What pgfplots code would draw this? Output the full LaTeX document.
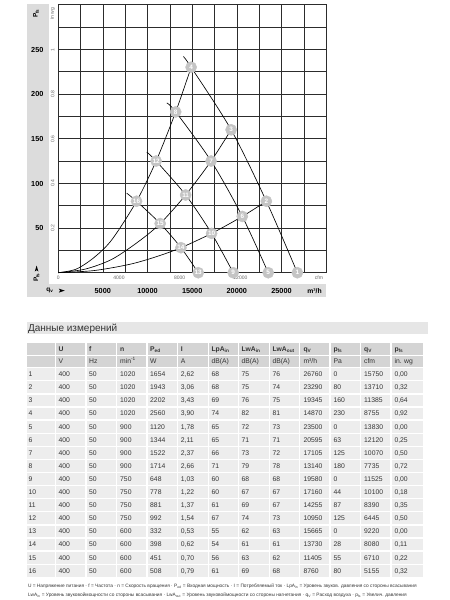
\documentclass[border=0pt]{standalone}
\usepackage{pgfplots}
\pgfplotsset{compat=1.18}
\usepackage{fontspec}
\setmainfont{Liberation Sans}
\definecolor{strip}{HTML}{DCDCDC}
\definecolor{gridc}{HTML}{2C2C2C}
\definecolor{circ}{HTML}{C4C4C4}
\definecolor{hdr}{HTML}{D4D4D4}
\definecolor{cellc}{HTML}{EDEDED}
\definecolor{titlec}{HTML}{E6E6E6}
\definecolor{txt}{HTML}{333333}
\definecolor{lbl}{HTML}{666666}

\newcommand\cellrow[2]{%
  \foreach \t [count=\c from 0] in {#2}{%
    \pgfmathsetmacro\xx{{28.3,58.3,89,120,150,180.7,211.3,241.3,272.3,303.3,333.3,364,394.3}[\c]}%
    \node[anchor=base west, inner sep=0pt, text=txt, font=\fontsize{6.8}{8}\selectfont] at (\xx, #1+2.4) {\t};
  }}

\begin{document}
\begin{tikzpicture}
\useasboundingbox (0,0) rectangle (450pt,-600pt);
\begin{scope}[x=1pt,y=-1pt]
% chart background strips
\fill[strip] (26.7,3.5) rectangle (49.3,297);
\fill[strip] (26.7,284) rectangle (326.3,297);
% Pa labels
\foreach \v/\y in {250/49.7, 200/94.3, 150/138.9, 100/183.5, 50/228.1}{
  \node[anchor=east, inner sep=0pt, font=\fontsize{7.3}{8}\selectfont\bfseries] at (43.6,\y) {\v};
}
% in wg labels
\foreach \v/\y in {1/49.7, 0.8/94.3, 0.6/138.9, 0.4/183.5, 0.2/228.1}{
  \node[rotate=90, inner sep=0pt, text=lbl, font=\fontsize{5}{6}\selectfont] at (52.6,\y) {\v};
}
\node[rotate=90, anchor=east, inner sep=0pt, text=lbl, font=\fontsize{5}{6}\selectfont] at (52.6,7.5) {in wg};
\node[rotate=90, inner sep=0pt, font=\fontsize{6.5}{7}\selectfont\bfseries] at (36,13.5) {P\textsubscript{fs}};
% bottom left
\fill (34.8,271.5) -- (36.6,265.5) -- (38.4,271.5) -- (36.6,270.2) -- cycle;
\node[rotate=90, inner sep=0pt, font=\fontsize{6.5}{7}\selectfont\bfseries] at (36.6,277.5) {P\textsubscript{fs}};
\node[inner sep=0pt, font=\fontsize{6.5}{7}\selectfont\bfseries] at (50,290.5) {q\textsubscript{v}};
\fill (58.8,288.6) -- (64.8,290.6) -- (58.8,292.6) -- (60.1,290.6) -- cycle;
% m3/h labels
\foreach \v/\x in {5000/102.8, 10000/147.5, 15000/192.2, 20000/236.8, 25000/281.5}{
  \node[inner sep=0pt, font=\fontsize{7.3}{8}\selectfont\bfseries] at (\x,290.7) {\v};
}
\node[inner sep=0pt, font=\fontsize{6.8}{8}\selectfont\bfseries] at (314.5,290.7) {m³/h};
% cfm labels
\foreach \v/\x in {0/58.3, 4000/119.0, 8000/179.7, 12000/240.4}{
  \node[inner sep=0pt, text=lbl, font=\fontsize{5}{6}\selectfont] at (\x,277.4) {\v};
}
\node[inner sep=0pt, text=lbl, font=\fontsize{5}{6}\selectfont] at (319,277.4) {cfm};

% ---------- table ----------
\fill[titlec] (26.7,321.7) rectangle (427.7,334.3);
\node[anchor=base west, inner sep=0pt, text=txt, font=\fontsize{10}{12}\selectfont] at (27.8,331.8) {Данные измерений};
\foreach \xl/\xr in {26.7/54.8, 56/85.4, 86.7/116, 117.3/146.4, 147.7/177, 178.3/207.7, 209/238, 239.3/268.7, 270/299, 300.3/329.4, 330.7/360, 361.3/390.4, 391.7/422.7}{
  \fill[hdr] (\xl,342.7) rectangle (\xr,354.5);
  \fill[hdr] (\xl,355.7) rectangle (\xr,367);
  \foreach \k in {0,...,15}{ \fill[cellc] (\xl,{368.3+13.1*\k}) rectangle (\xr,{380.1+13.1*\k}); }
}
\cellrow{348.6}{{},\textbf{U},\textbf{f},\textbf{n},\textbf{P\textsubscript{ed}},\textbf{I},\textbf{LpA\textsubscript{in}},\textbf{LwA\textsubscript{in}},\textbf{LwA\textsubscript{out}},\textbf{q\textsubscript{V}},\textbf{p\textsubscript{fs}},\textbf{q\textsubscript{V}},\textbf{p\textsubscript{fs}}}
\cellrow{361.3}{{},V,Hz,min\textsuperscript{-1},W,A,dB(A),dB(A),dB(A),m³/h,Pa,cfm,in. wg}
\cellrow{374.2}{1,400,50,1020,1654,{2,62},68,75,76,26760,0,15750,{0,00}}
\cellrow{387.3}{2,400,50,1020,1943,{3,06},68,75,74,23290,80,13710,{0,32}}
\cellrow{400.4}{3,400,50,1020,2202,{3,43},69,76,75,19345,160,11385,{0,64}}
\cellrow{413.5}{4,400,50,1020,2560,{3,90},74,82,81,14870,230,8755,{0,92}}
\cellrow{426.6}{5,400,50,900,1120,{1,78},65,72,73,23500,0,13830,{0,00}}
\cellrow{439.7}{6,400,50,900,1344,{2,11},65,71,71,20595,63,12120,{0,25}}
\cellrow{452.8}{7,400,50,900,1522,{2,37},66,73,72,17105,125,10070,{0,50}}
\cellrow{465.9}{8,400,50,900,1714,{2,66},71,79,78,13140,180,7735,{0,72}}
\cellrow{479.0}{9,400,50,750,648,{1,03},60,68,68,19580,0,11525,{0,00}}
\cellrow{492.1}{10,400,50,750,778,{1,22},60,67,67,17160,44,10100,{0,18}}
\cellrow{505.2}{11,400,50,750,881,{1,37},61,69,67,14255,87,8390,{0,35}}
\cellrow{518.3}{12,400,50,750,992,{1,54},67,74,73,10950,125,6445,{0,50}}
\cellrow{531.4}{13,400,50,600,332,{0,53},55,62,63,15665,0,9220,{0,00}}
\cellrow{544.5}{14,400,50,600,398,{0,62},54,61,61,13730,28,8080,{0,11}}
\cellrow{557.6}{15,400,50,600,451,{0,70},56,63,62,11405,55,6710,{0,22}}
\cellrow{570.7}{16,400,50,600,508,{0,79},61,69,68,8760,80,5155,{0,32}}
% footer
\node[anchor=base west, inner sep=0pt, text=txt, font=\fontsize{4.8}{6}\selectfont] at (27.8,587) {U = Напряжение питания · f = Частота · n = Скорость вращения · P\textsubscript{ed} = Входная мощность · I = Потребляемый ток · LpA\textsubscript{in} = Уровень звуков. давления со стороны всасывания};
\node[anchor=base west, inner sep=0pt, text=txt, font=\fontsize{4.8}{6}\selectfont] at (27.8,596.7) {LwA\textsubscript{in} = Уровень звуковоймощности со стороны всасывания · LwA\textsubscript{out} = Уровень звуковоймощности со стороны нагнетания · q\textsubscript{V} = Расход воздуха · p\textsubscript{fs} = Увелич. давления};
\end{scope}

\begin{axis}[at={(58.3pt,-272.7pt)}, anchor=south west, scale only axis,
  width=268pt, height=268pt,
  xmin=0, xmax=30000, ymin=0, ymax=300,
  scaled x ticks=false, scaled y ticks=false,
  xtick={0,2500,...,30000}, ytick={0,25,...,300},
  xticklabels={}, yticklabels={}, major tick length=0pt,
  grid=major, grid style={gridc, line width=0.7pt},
  axis line style={gridc, line width=0.7pt},
  clip=false]
% fan curves
\addplot[black, line width=0.65pt, smooth] coordinates {(14000,242) (14870,230) (19345,160) (23290,80) (26760,0)};
\addplot[black, line width=0.65pt, smooth] coordinates {(12150,190) (13140,180) (17105,125) (20595,63) (23500,0)};
\addplot[black, line width=0.65pt, smooth] coordinates {(9900,135) (10950,125) (14255,87) (17160,44) (19580,0)};
\addplot[black, line width=0.65pt, smooth] coordinates {(7660,89) (8760,80) (11405,55) (13730,28) (15665,0)};
% system curves
\addplot[black, line width=0.65pt, smooth] coordinates {(0,0) (2000,4) (4000,17) (6000,37) (8760,80) (10950,125) (13140,180) (14870,230)};
\addplot[black, line width=0.65pt, smooth] coordinates {(0,0) (3000,4) (6000,15) (9000,35) (11405,55) (14255,87) (17105,125) (19345,160)};
\addplot[black, line width=0.65pt, smooth] coordinates {(0,0) (4000,2.4) (8000,9.4) (11000,18) (13730,28) (17160,44) (20595,63) (23290,80)};
% operating points
\addplot[only marks, mark=*, mark size=5.6pt, mark options={fill=circ, draw=circ},
  nodes near coords, point meta=explicit symbolic,
  every node near coord/.append style={anchor=center, inner sep=0pt, text=white, font=\fontsize{6.4}{7}\selectfont\bfseries}]
  table[meta=lab] {
q p lab
26760 0 1
23290 80 2
19345 160 3
14870 230 4
23500 0 5
20595 63 6
17105 125 7
13140 180 8
19580 0 9
17160 44 10
14255 87 11
10950 125 12
15665 0 13
13730 28 14
11405 55 15
8760 80 16
};
\end{axis}
\end{tikzpicture}
\end{document}
